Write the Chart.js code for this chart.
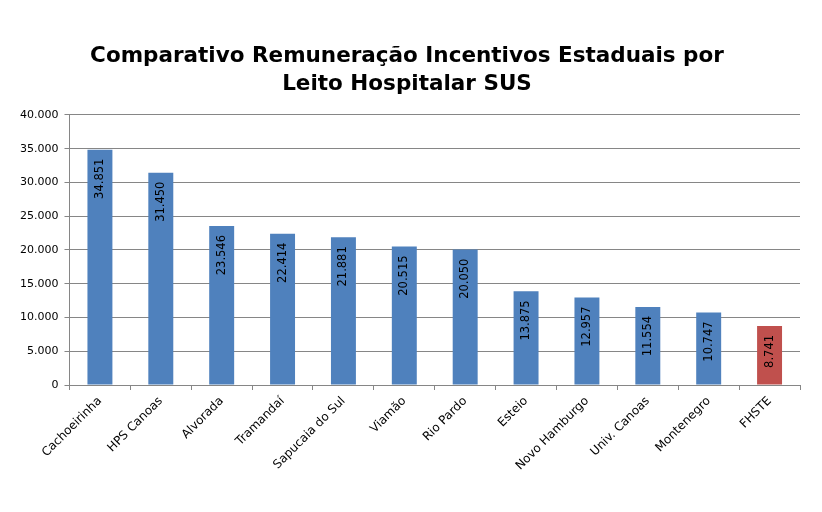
<!DOCTYPE html>
<html>
<head>
<meta charset="utf-8">
<script src="https://cdn.jsdelivr.net/npm/chart.js@4"></script>
<style>
  html, body { margin: 0; padding: 0; background: #fff; }
  #wrap { width: 822px; height: 512px; }
</style>
</head>
<body>
<div id="wrap"><canvas id="chart"></canvas></div>
<script>
// Chart data
const categories = ['Cachoeirinha', 'HPS Canoas', 'Alvorada', 'Tramandaí', 'Sapucaia do Sul', 'Viamão',
    'Rio Pardo', 'Esteio', 'Novo Hamburgo', 'Univ. Canoas', 'Montenegro', 'FHSTE'];
const values = [34851, 31450, 23546, 22414, 21881, 20515, 20050, 13875, 12957, 11554, 10747, 8741];
const barColors = ['#4F81BD', '#4F81BD', '#4F81BD', '#4F81BD', '#4F81BD', '#4F81BD',
    '#4F81BD', '#4F81BD', '#4F81BD', '#4F81BD', '#4F81BD', '#C0504D'];
const titleLines = ['Comparativo Remuneração Incentivos Estaduais por', 'Leito Hospitalar SUS'];
const yMin = 0;
const yMax = 40000;
const yStep = 5000;

const FONT = 'DejaVu Sans';
const GRID = '#868686';

// 34851 -> "34.851"
function formatNumber(n) {
    return String(Math.round(n)).replace(/\B(?=(\d{3})+(?!\d))/g, '.');
}

// draws the vertical value labels inside each bar
const barLabels = {
    id: 'barLabels',
    afterDatasetsDraw(chart) {
        const ctx = chart.ctx;
        const meta = chart.getDatasetMeta(0);
        ctx.save();
        ctx.font = '11.5px "' + FONT + '"';
        ctx.fillStyle = '#000';
        ctx.textAlign = 'right';
        ctx.textBaseline = 'middle';
        meta.data.forEach((bar, i) => {
            ctx.save();
            ctx.translate(bar.x, bar.y + 9);
            ctx.rotate(-Math.PI / 2);
            ctx.fillText(formatNumber(values[i]), 0, 0);
            ctx.restore();
        });
        ctx.restore();
    }
};

new Chart(document.getElementById('chart'), {
    type: 'bar',
    data: {
        labels: categories,
        datasets: [{
            data: values,
            backgroundColor: barColors,
            borderWidth: 0,
            inflateAmount: 0,
            barPercentage: 0.41,
            categoryPercentage: 1
        }]
    },
    options: {
        responsive: true,
        maintainAspectRatio: false,
        animation: false,
        layout: { padding: { top: 42, right: 22, left: 14, bottom: 0 } },
        plugins: {
            legend: { display: false },
            tooltip: { enabled: false },
            title: {
                display: true,
                text: titleLines,
                color: '#000',
                font: { family: FONT, size: 21.5, weight: 'bold', lineHeight: 1.3 },
                padding: { top: 0, bottom: 17 }
            }
        },
        scales: {
            x: {
                grid: { display: true, drawOnChartArea: false, offset: true, color: GRID, tickLength: 5 },
                border: { color: GRID },
                ticks: {
                    color: '#000',
                    font: { family: FONT, size: 12 },
                    maxRotation: 45,
                    minRotation: 45,
                    padding: 4
                },
                afterFit(scale) { scale.height = 127; }
            },
            y: {
                min: yMin,
                max: yMax,
                ticks: {
                    stepSize: yStep,
                    color: '#000',
                    font: { family: FONT, size: 11 },
                    padding: 6,
                    callback: (v) => formatNumber(v)
                },
                grid: { color: GRID, tickLength: 5 },
                border: { color: GRID }
            }
        }
    },
    plugins: [barLabels]
});
</script>
</body>
</html>
